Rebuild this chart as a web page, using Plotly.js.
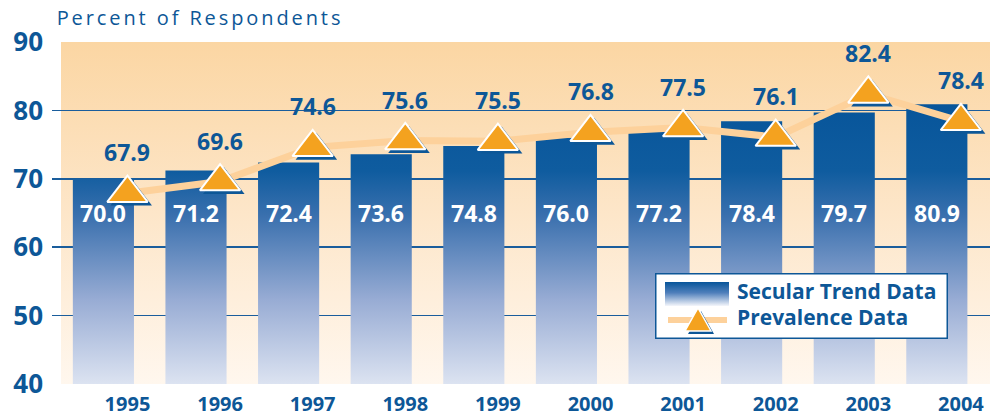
<!DOCTYPE html>
<html>
<head>
<meta charset="utf-8">
<script src="https://cdn.plot.ly/plotly-3.0.1.min.js"></script>
<style>
  html, body { margin: 0; padding: 0; background: #fff; }
  #plot { width: 990px; height: 416px; }
  .gtitle { letter-spacing: 2.9px; }
</style>
</head>
<body>
<div id="plot"></div>
<script>
// chart values
let years = ["1995", "1996", "1997", "1998", "1999", "2000", "2001", "2002", "2003", "2004"];
let secularTrend = [70.0, 71.2, 72.4, 73.6, 74.8, 76.0, 77.2, 78.4, 79.7, 80.9];
let prevalence = [67.9, 69.6, 74.6, 75.6, 75.5, 76.8, 77.5, 76.1, 82.4, 78.4];
let yTicks = [40, 50, 60, 70, 80, 90];
let seriesNames = ["Secular Trend Data", "Prevalence Data"];

let navy = "#0d5797";
let orange = "#f4a21f";
let peach = "#fdd19b";
let idx = years.map((y, i) => i);

// bars sit left of the tick, triangles on the tick
let barLeft = -0.59, barRight = 0.07;
let barX = [], barY = [];
secularTrend.forEach((v, i) => {
    barX.push(i + barLeft, i + barRight, i + barRight, i + barLeft, i + barLeft, null);
    barY.push(40, 40, v, v, 40, null);
});

let traceBars = {
    x: barX,
    y: barY,
    type: "scatter",
    mode: "none",
    fill: "toself",
    name: seriesNames[0],
    fillgradient: {
        type: "vertical",
        start: 40,
        stop: 81,
        colorscale: [[0, "#dce3f1"], [0.3, "#98acd4"], [0.6, "#3a70ae"], [0.76, "#0f5c9f"], [1, "#07559a"]]
    },
    hoverinfo: "skip"
};

let traceLine = {
    x: idx,
    y: prevalence,
    type: "scatter",
    mode: "lines",
    line: {color: peach, width: 7},
    hoverinfo: "skip"
};

let traceShadow = {
    x: idx.map(i => i + 0.04),
    y: prevalence.map(v => v - 0.5),
    type: "scatter",
    mode: "markers",
    marker: {symbol: "triangle-up", size: 36, color: navy},
    hoverinfo: "skip"
};

let traceTri = {
    x: idx,
    y: prevalence,
    type: "scatter",
    mode: "markers",
    name: seriesNames[1],
    marker: {symbol: "triangle-up", size: 35, color: orange, line: {color: "#ffffff", width: 2}},
    hoverinfo: "skip"
};

let annotations = [];
secularTrend.forEach((v, i) => {
    annotations.push({
        x: i + (barLeft + barRight) / 2, y: 65, text: v.toFixed(1), showarrow: false,
        font: {family: "Open Sans", size: 23, color: "#ffffff", weight: "bold"}
    });
});
prevalence.forEach((v, i) => {
    annotations.push({
        x: i, y: v, yshift: 41, text: v.toFixed(1), showarrow: false,
        font: {family: "Open Sans", size: 23, color: navy, weight: "bold"}
    });
});

// hand-made key (box, swatches, labels), placed in pixels
let plotL = 52, plotW = 938, plotBottom = 384, plotH = 342;
let px = p => (p - plotL) / plotW;
let py = p => (plotBottom - p) / plotH;

function svgUri(w, h, body) {
    let s = "<svg xmlns='http://www.w3.org/2000/svg' width='" + w + "' height='" + h + "' viewBox='0 0 " + w + " " + h +
        "' preserveAspectRatio='none'>" + body + "</svg>";
    return "data:image/svg+xml;charset=utf-8," + encodeURIComponent(s);
}

let bgSvg = svgUri(10, 100,
    "<defs><linearGradient id='g' x1='0' y1='0' x2='0' y2='1'>" +
    "<stop offset='0' stop-color='#fbd6a3'/><stop offset='0.5' stop-color='#fde6c9'/><stop offset='1' stop-color='#fff7ee'/>" +
    "</linearGradient></defs><rect width='10' height='100' fill='url(#g)'/>");

// key box 655..948 x 273..339
let keySvg = svgUri(293, 66,
    "<defs><linearGradient id='k' x1='0' y1='0' x2='0' y2='1'>" +
    "<stop offset='0' stop-color='#07559a'/><stop offset='0.45' stop-color='#4f7fbb'/><stop offset='1' stop-color='#f4f6fb'/>" +
    "</linearGradient></defs>" +
    "<rect x='0.75' y='0.75' width='291.5' height='64.5' fill='#ffffff' stroke='" + navy + "' stroke-width='1.5'/>" +
    "<rect x='10' y='9' width='64' height='24' fill='url(#k)'/>");

function triPath(cx, baseY, w, h) {
    return "M" + px(cx - w / 2) + "," + py(baseY) + " L" + px(cx + w / 2) + "," + py(baseY) +
        " L" + px(cx) + "," + py(baseY - h) + " Z";
}

let shapes = [
    {type: "line", xref: "paper", yref: "paper", x0: px(668), x1: px(727), y0: py(320), y1: py(320),
        line: {color: peach, width: 6}, layer: "above"},
    {type: "path", xref: "paper", yref: "paper", path: triPath(701, 334, 26, 23),
        fillcolor: navy, line: {width: 0}, layer: "above"},
    {type: "path", xref: "paper", yref: "paper", path: triPath(698, 331, 26, 23),
        fillcolor: orange, line: {color: "#ffffff", width: 1.5}, layer: "above"}
];

annotations.push(
    {xref: "paper", yref: "paper", x: px(735), y: py(291), xanchor: "left", yanchor: "middle",
        text: seriesNames[0], showarrow: false,
        font: {family: "Open Sans", size: 21, color: navy, weight: "bold"}},
    {xref: "paper", yref: "paper", x: px(735), y: py(317), xanchor: "left", yanchor: "middle",
        text: seriesNames[1], showarrow: false,
        font: {family: "Open Sans", size: 21, color: navy, weight: "bold"}}
);

let layout = {
    width: 990,
    height: 416,
    margin: {l: 52, r: 0, t: 42, b: 32},
    paper_bgcolor: "#ffffff",
    plot_bgcolor: "rgba(0,0,0,0)",
    showlegend: false,
    title: {
        text: "Percent of Respondents",
        x: 0.005, xref: "paper", xanchor: "left",
        y: 0.957, yref: "container", yanchor: "middle",
        font: {family: "Open Sans", size: 20, color: navy}
    },
    xaxis: {
        range: [-0.815, 9.314],
        tickvals: idx,
        ticktext: years,
        showgrid: false,
        zeroline: false,
        showline: false,
        ticks: "",
        ticklabelstandoff: 6,
        tickfont: {family: "Open Sans", size: 20, color: navy, weight: "bold"}
    },
    yaxis: {
        range: [40, 90],
        tickvals: yTicks,
        showgrid: true,
        gridcolor: "#1a5d9c",
        gridwidth: 1.6,
        zeroline: false,
        showline: false,
        ticks: "",
        ticklabelstandoff: 8,
        tickfont: {family: "Open Sans", size: 26, color: navy, weight: "bold"}
    },
    images: [
        {
            source: bgSvg,
            xref: "paper", yref: "paper",
            x: px(61), y: 1, sizex: 1 - px(61), sizey: 1,
            xanchor: "left", yanchor: "top",
            sizing: "stretch", layer: "below"
        },
        {
            source: keySvg,
            xref: "paper", yref: "paper",
            x: px(655), y: py(273), sizex: px(948) - px(655), sizey: py(273) - py(339),
            xanchor: "left", yanchor: "top",
            sizing: "stretch", layer: "above"
        }
    ],
    shapes: shapes,
    annotations: annotations
};

Plotly.newPlot("plot", [traceBars, traceLine, traceShadow, traceTri], layout, {displayModeBar: false, staticPlot: true});
</script>
</body>
</html>
